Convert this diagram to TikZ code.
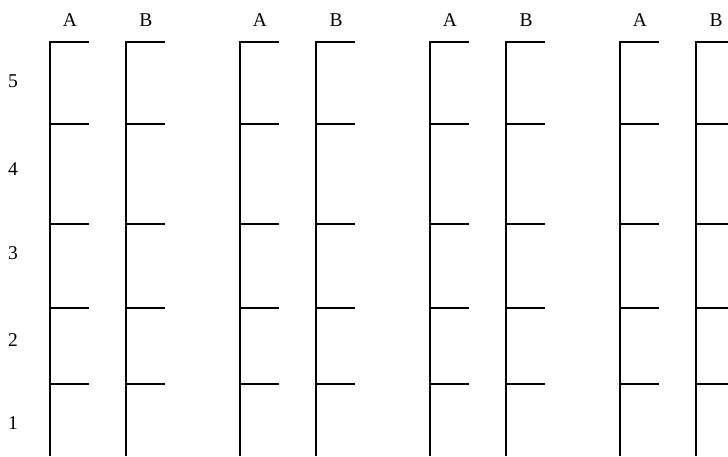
\documentclass[tikz,border=0pt]{standalone}
\usepackage{fontspec}
\setmainfont{Liberation Serif}
\usetikzlibrary{positioning}

\begin{document}
\begin{tikzpicture}[
        x=1pt, y=-1pt,
        post/.style={line width=2pt},
        tick/.style={line width=1.4pt},
        lbl/.style={font=\fontsize{19.5}{21}\selectfont, inner sep=0pt}
    ]
        \useasboundingbox (0,0) rectangle (728,456);

        % row numbers
        \node[lbl] (r5) at (13,81) {5};
        \node[lbl] (r4) at (13,169) {4};
        \node[lbl] (r3) at (13,253) {3};
        \node[lbl] (r2) at (13,340) {2};
        \node[lbl] (r1) at (13,423) {1};

        % columns A / B
        \foreach \x/\c [count=\i] in {50/A,126/B,240/A,316/B,430/A,506/B,620/A,696/B} {
            \node[lbl] (col\i) at (\x+20,20) {\c};
            \draw[post] (\x,41.3) -- (\x,456);
            \foreach \y in {42,124,224,308,384}
                \draw[tick] (\x,\y) -- (\x+39,\y);
        }
    \end{tikzpicture}
\end{document}
